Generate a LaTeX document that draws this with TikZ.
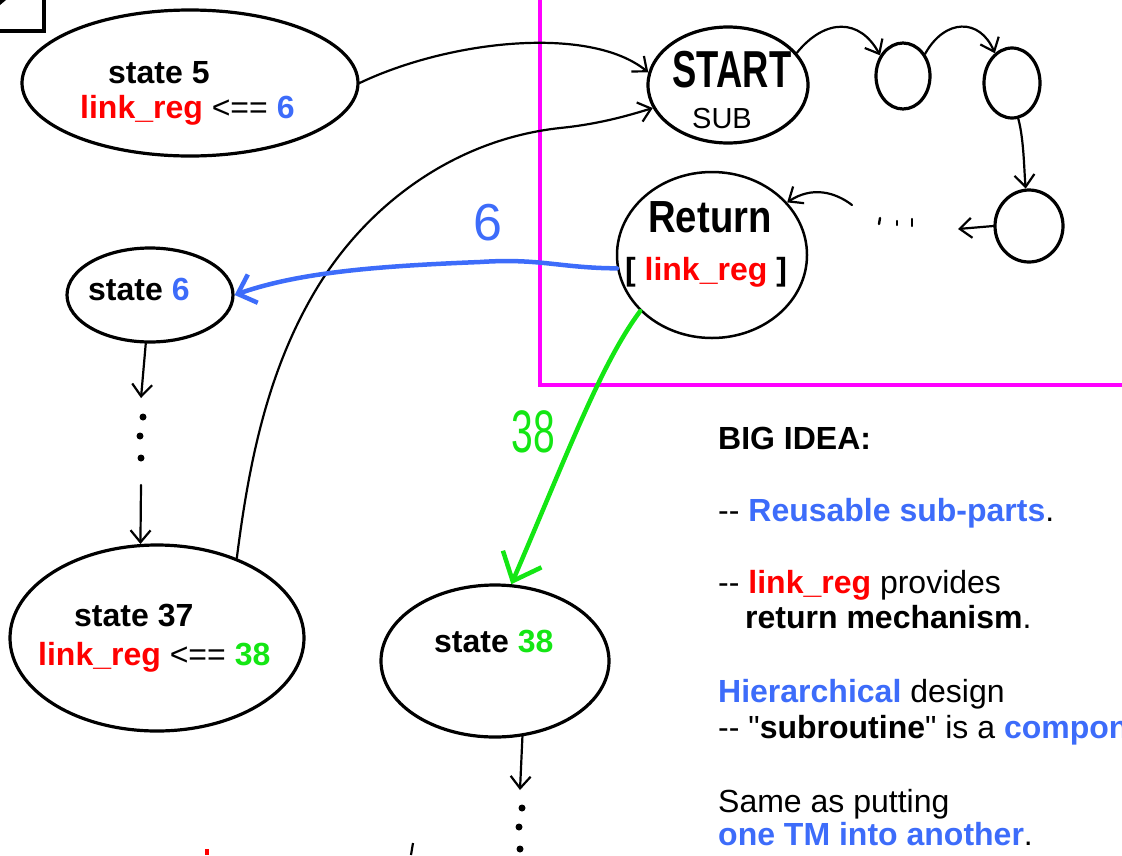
\documentclass[tikz,border=0pt]{standalone}
\usepackage{fontspec}
\newfontfamily\hv{Liberation Sans}
\usetikzlibrary{shapes.geometric,arrows.meta}
\definecolor{hiblue}{RGB}{61,108,250}
\definecolor{hired}{RGB}{255,0,0}
\definecolor{higreen}{RGB}{20,230,20}
\definecolor{boxmag}{RGB}{255,0,255}

\begin{document}
\begin{tikzpicture}[x=1pt,y=-1pt,
  st/.style={draw, ellipse, line width=3.2pt, inner sep=0pt},
  lbl/.style={font=\hv\fontsize{32}{37}\selectfont, anchor=base west, inner sep=0pt},
  ctext/.style={font=\hv\fontsize{32}{37}\selectfont, anchor=base, inner sep=0pt},
  flow/.style={line width=2.2pt, line cap=round, -{Straight Barb[length=12pt,width=20pt]}},
  blueflow/.style={hiblue, line width=4.5pt, line cap=round, -{Straight Barb[length=16pt,width=30pt]}},
  greenflow/.style={higreen, line width=4.5pt, line cap=round, -{Straight Barb[length=24pt,width=42pt]}},
  dot/.style={fill=black, circle, inner sep=0pt, minimum size=7pt}]
\useasboundingbox (0,0) rectangle (1122,855);

% frame corner and sub-machine region
\draw[line width=3.5pt] (0,31) -- (44,31) -- (44,0);
\fill (0,0) -- (6,0) -- (0,5) -- cycle;
\draw[boxmag, line width=3.5pt] (540,0) -- (540,385) -- (1122,385);

% states of the calling machine
\node[st, minimum width=336pt, minimum height=146pt] (s5) at (190,83) {};
\node[st, minimum width=166pt, minimum height=94pt] (s6) at (150,295) {};
\node[st, minimum width=294pt, minimum height=186pt] (s37) at (157,638) {};
\node[st, minimum width=228pt, minimum height=152pt] (s38) at (495,661) {};

\node[lbl] (t5a) at (108,83) {\bfseries state 5};
\node[lbl] (t5b) at (80,118) {\textcolor{hired}{\bfseries link\_reg} <== \textcolor{hiblue}{\bfseries 6}};
\node[lbl] (t6) at (88,300) {\bfseries state \textcolor{hiblue}{6}};
\node[lbl] (t37a) at (74,626) {\bfseries state 37};
\node[lbl] (t37b) at (38,665) {\textcolor{hired}{\bfseries link\_reg} <== \textcolor{higreen}{\bfseries 38}};
\node[lbl] (t38) at (434,652) {\bfseries state \textcolor{higreen}{38}};

% subroutine machine
\node[st, minimum width=160pt, minimum height=116pt] (start) at (728,85) {};
\node[st, minimum width=54pt, minimum height=66pt] (c1) at (903,76) {};
\node[st, minimum width=56pt, minimum height=70pt] (c2) at (1012,83) {};
\node[st, minimum width=68pt, minimum height=72pt] (c3) at (1029,226) {};
\node[st, line width=2.5pt, minimum width=190pt, minimum height=166pt] (ret) at (712,255) {};

\node[anchor=base, inner sep=0pt, font=\hv\bfseries\fontsize{52}{52}\selectfont] (tstart) at (732,87) {\scalebox{0.7}[1]{START}};
\node[anchor=base, inner sep=0pt, font=\hv\fontsize{29}{30}\selectfont] (tsub) at (722,128) {SUB};
\node[anchor=base, inner sep=0pt, font=\hv\bfseries\fontsize{45}{45}\selectfont] (tret) at (710,232) {\scalebox{0.85}[1]{Return}};
\node[ctext] (tlink) at (706,280) {\bfseries [ \textcolor{hired}{link\_reg} ]};

% transitions inside the subroutine
\draw[flow] (start.25) .. controls (825,18) and (860,18) .. (c1.138);
\draw[flow] (c1.45) .. controls (945,18) and (980,18) .. (c2.120);
\draw[flow] (c2.-80) .. controls (1024,140) and (1024,170) .. (c3.95);
\coordinate (gapR) at (958,229);
\draw[flow] (c3.west) -- (gapR);
\draw[line width=2.4pt, line cap=round] (880,218) -- (879,224);
\draw[line width=2.4pt, line cap=round] (897,221) -- (897,225);
\draw[line width=2.4pt, line cap=round] (912,219) -- (912,226);
\coordinate (gapL) at (852,205);
\draw[flow] (gapL) .. controls (835,192) and (812,186) .. (ret.35);

% calls into the subroutine
\draw[flow] (s5.east) .. controls (450,40) and (590,25) .. (start.171);
\draw[flow] (s37.45) .. controls (248,470) and (265,380) .. (310,300)
  .. controls (360,210) and (450,140) .. (560,128)
  .. controls (600,124) and (630,115) .. (start.197);

% returns through link_reg
\draw[blueflow] (ret.188) .. controls (560,268) and (540,258) .. (480,262)
  .. controls (380,266) and (300,272) .. (s6.east);
\node[anchor=base, inner sep=0pt, text=hiblue, font=\hv\fontsize{52}{52}\selectfont] (lab6) at (488,240) {6};
\draw[greenflow] (ret.218) .. controls (600,365) and (565,460) .. (s38.78);
\node[anchor=base, inner sep=0pt, text=higreen, font=\hv\fontsize{60}{60}\selectfont] (lab38) at (533,452) {\scalebox{0.65}[1]{38}};

% elided states
\coordinate (d6a) at (141,398);
\draw[flow] (s6.-95) -- (d6a);
\node[dot] (e1) at (143,417) {};
\node[dot] (e2) at (140,436) {};
\node[dot] (e3) at (141,458) {};
\coordinate (d6b) at (141,485);
\draw[flow] (d6b) -- (s37.100);

\coordinate (d38) at (520,790);
\draw[flow] (s38.-70) -- (d38);
\node[dot] (f1) at (522,808) {};
\node[dot] (f2) at (519,827) {};
\node[dot] (f3) at (520,849) {};

% marks at the lower edge
\fill[hired] (205,849) rectangle (209,855);
\draw[line width=2.2pt] (413,843) -- (411,855);

% notes
\begin{scope}
\clip (0,0) rectangle (1122,855);
\node[lbl] (n1) at (718,449) {\bfseries BIG IDEA:};
\node[lbl] (n2) at (718,521) {-{}- \textcolor{hiblue}{\bfseries Reusable sub-parts}.};
\node[lbl] (n3) at (718,593) {-{}- \textcolor{hired}{\bfseries link\_reg} provides};
\node[lbl] (n4) at (745,628) {\bfseries return mechanism\mdseries.};
\node[lbl] (n5) at (718,702) {\textcolor{hiblue}{\bfseries Hierarchical} design};
\node[lbl] (n6) at (718,738) {-{}- "\textbf{subroutine}" is a \textcolor{hiblue}{\bfseries component}};
\node[lbl] (n7) at (718,812) {Same as putting};
\node[lbl] (n8) at (718,845) {\textcolor{hiblue}{\bfseries one TM into another}.};
\end{scope}
\end{tikzpicture}
\end{document}
